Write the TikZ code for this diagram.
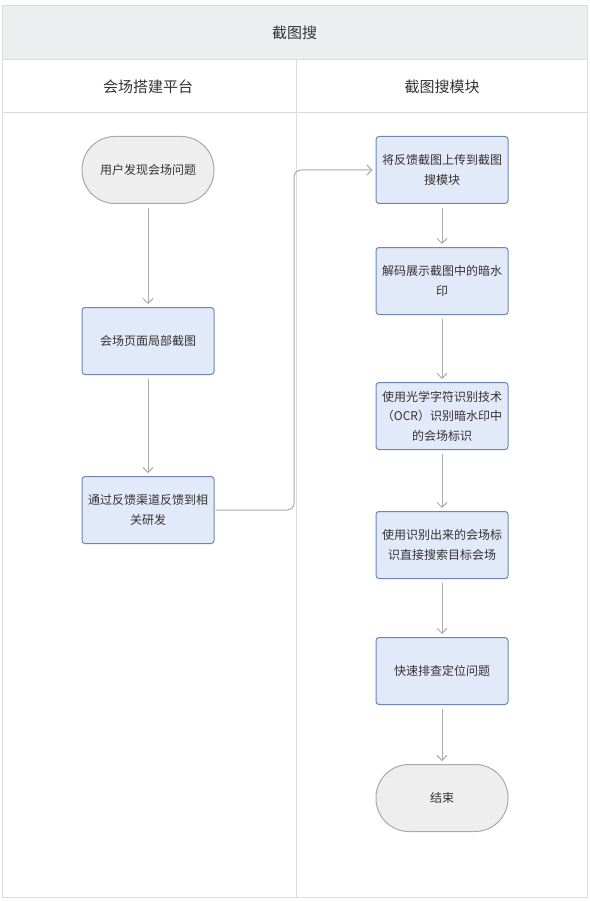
\documentclass[tikz,border=0pt]{standalone}
\usepackage{fontspec}
\setmainfont{Noto Sans CJK SC}
\usepackage{xcolor}
\usetikzlibrary{arrows.meta,positioning}

\definecolor{laneline}{HTML}{DADCDF}
\definecolor{titlefill}{HTML}{ECEEF0}
\definecolor{boxfill}{HTML}{E2E9F8}
\definecolor{boxdraw}{HTML}{6E86B4}
\definecolor{termfill}{HTML}{EEEEEE}
\definecolor{termdraw}{HTML}{A9A9A9}
\definecolor{linkgray}{HTML}{ABABAB}
\definecolor{txt}{HTML}{333333}

\begin{document}
\begin{tikzpicture}[x=1pt,y=1pt,
  proc/.style={draw=boxdraw, fill=boxfill, line width=1pt, rounded corners=3pt,
    minimum width=132pt, minimum height=67pt, align=center, text=txt,
    font=\fontsize{12}{19.5}\selectfont},
  term/.style={draw=termdraw, fill=termfill, line width=1pt, rounded corners=33pt,
    minimum width=132pt, minimum height=67pt, align=center, text=txt,
    font=\fontsize{12}{19.5}\selectfont},
  lanehead/.style={text=txt, font=\fontsize{15}{18}\selectfont},
  arrow/.style={-{Straight Barb[length=5pt,width=10pt]}, draw=linkgray,
    line width=1pt, shorten <=4pt, shorten >=3pt},
]

\useasboundingbox (0,0) rectangle (589,-901);

\fill[white] (0,0) rectangle (589,-901);
\fill[titlefill] (2,-6) rectangle (587,-60);
\draw[laneline, line width=1pt] (2,-6) rectangle (587,-897);
\draw[laneline, line width=1pt] (2,-60) -- (587,-60);
\draw[laneline, line width=1pt] (2,-113) -- (587,-113);
\draw[laneline, line width=1pt] (296,-60) -- (296,-897);

\node[lanehead] (title) at (294.5,-33) {截图搜};
\node[lanehead] (laneL) at (148,-87) {会场搭建平台};
\node[lanehead] (laneR) at (442,-87) {截图搜模块};

\node[term] (s1) at (148,-170) {用户发现会场问题};
\node[proc] (s2) at (148,-341) {会场页面局部截图};
\node[proc] (s3) at (148,-510) {通过反馈渠道反馈到相\\关研发};

\node[proc] (r1) at (442,-170) {将反馈截图上传到截图\\搜模块};
\node[proc] (r2) at (442,-281) {解码展示截图中的暗水\\印};
\node[proc] (r3) at (442,-416) {使用光学字符识别技术\\（OCR）识别暗水印中\\的会场标识};
\node[proc] (r4) at (442,-545) {使用识别出来的会场标\\识直接搜索目标会场};
\node[proc] (r5) at (442,-671) {快速排查定位问题};
\node[term] (r6) at (442,-798) {结束};

\coordinate (bend) at (294,-510);

\draw[arrow] (s1) -- (s2);
\draw[arrow] (s2) -- (s3);
\draw[arrow, rounded corners=7pt, shorten <=1pt] (s3.east) -- (bend) |- (r1.west);
\draw[arrow] (r1) -- (r2);
\draw[arrow] (r2) -- (r3);
\draw[arrow] (r3) -- (r4);
\draw[arrow] (r4) -- (r5);
\draw[arrow] (r5) -- (r6);

\end{tikzpicture}
\end{document}
